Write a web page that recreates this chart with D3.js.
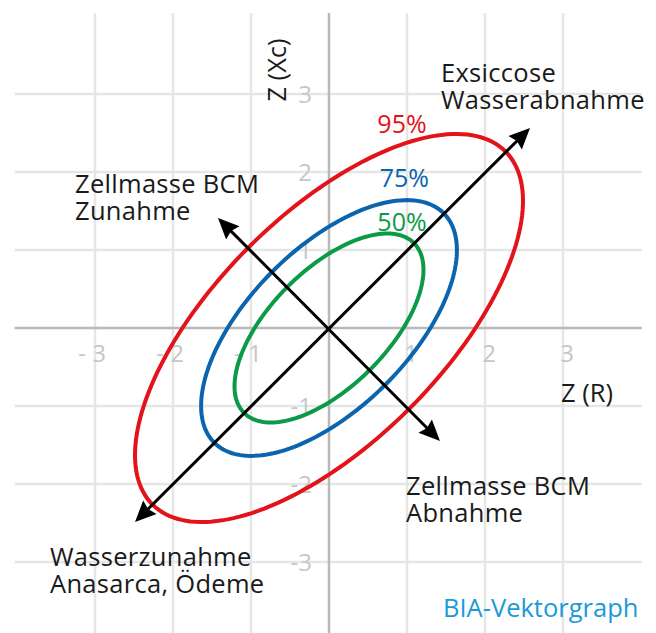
<!DOCTYPE html>
<html>
<head>
<meta charset="utf-8">
<script src="https://cdn.jsdelivr.net/npm/d3@7"></script>
<style>
  html, body { margin: 0; padding: 0; background: #fff; }
  svg { display: block; }
  text { font-family: "Open Sans", Lato, sans-serif; }
</style>
</head>
<body>
<svg id="chart" width="656" height="633"></svg>
<script>
// ---- data ----
const gridTicks = [-3, -2, -1, 1, 2, 3];
const xTickLabels = ["- 3", "- 2", "- 1", "1", "2", "3"];
const yTickLabels = ["-3", "-2", "-1", "1", "2", "3"];

const levelNames = ["50%", "75%", "95%"];
const levelColors = ["#0b9a47", "#0a64ae", "#e3131b"];
const semiMajor = [1.54, 2.08, 3.20];   // along the 45° direction
const semiMinor = [0.75, 1.025, 1.46];
const tiltDeg = 45;
const levelLabelPos = [[0.62, 1.25], [0.65, 1.81], [0.62, 2.5]]; // label anchor (data units)

const arrowNames = ["Hydratation", "Zellmasse"];
const arrowStart = [[-2.487, -2.487], [-1.423, 1.41]];
const arrowEnd = [[2.577, 2.564], [1.423, -1.449]];

const annotationLines = [
  ["Exsiccose", "Wasserabnahme"],
  ["Zellmasse BCM", "Zunahme"],
  ["Zellmasse BCM", "Abnahme"],
  ["Wasserzunahme", "Anasarca, Ödeme"]
];

// ---- layout ----
const svg = d3.select("#chart");
const x = d3.scaleLinear().domain([-3, 3]).range([95, 563]);
const y = d3.scaleLinear().domain([-3, 3]).range([562, 94]);
const xExt = [-4.03, 4.01];
const yExt = [-3.91, 4.04];

const gridColor = "#e6e6e6";
const axisColor = "#b9b9b9";
const tickColor = "#c6c6c6";
const textColor = "#1a1a1a";

// grid
const g = svg.append("g");
g.selectAll(".vg").data(gridTicks).join("line")
  .attr("x1", d => x(d)).attr("x2", d => x(d))
  .attr("y1", y(yExt[1])).attr("y2", y(yExt[0]))
  .attr("stroke", gridColor).attr("stroke-width", 2.5);
g.selectAll(".hg").data(gridTicks).join("line")
  .attr("y1", d => y(d)).attr("y2", d => y(d))
  .attr("x1", x(xExt[0])).attr("x2", x(xExt[1]))
  .attr("stroke", gridColor).attr("stroke-width", 2.5);

// axes
g.append("line").attr("x1", x(xExt[0])).attr("x2", x(xExt[1]))
  .attr("y1", y(0)).attr("y2", y(0)).attr("stroke", axisColor).attr("stroke-width", 2.5);
g.append("line").attr("x1", x(0)).attr("x2", x(0))
  .attr("y1", y(yExt[1])).attr("y2", y(yExt[0])).attr("stroke", axisColor).attr("stroke-width", 2.5);

// tick labels
svg.selectAll(".xt").data(gridTicks).join("text")
  .attr("x", d => x(d) + 11).attr("y", y(0) + 34)
  .attr("text-anchor", "end").attr("font-size", 24).attr("fill", tickColor)
  .text((d, i) => xTickLabels[i]);
svg.selectAll(".yt").data(gridTicks).join("text")
  .attr("x", x(0) - 17).attr("y", d => y(d) + 9)
  .attr("text-anchor", "end").attr("font-size", 24).attr("fill", tickColor)
  .text((d, i) => yTickLabels[i]);

// ellipses
const th = tiltDeg * Math.PI / 180;
const line = d3.line().x(p => x(p[0])).y(p => y(p[1])).curve(d3.curveLinearClosed);
const ell = levelNames.map((n, i) => {
  const pts = d3.range(0, 360, 2).map(a => {
    const t = a * Math.PI / 180;
    const u = semiMajor[i] * Math.cos(t), v = semiMinor[i] * Math.sin(t);
    return [u * Math.cos(th) - v * Math.sin(th), u * Math.sin(th) + v * Math.cos(th)];
  });
  return { name: n, color: levelColors[i], pts, lp: levelLabelPos[i] };
});
svg.selectAll(".ell").data(ell).join("path")
  .attr("d", d => line(d.pts)).attr("fill", "none")
  .attr("stroke", d => d.color).attr("stroke-width", 4);
svg.selectAll(".lvl").data(ell).join("text")
  .attr("x", d => x(d.lp[0])).attr("y", d => y(d.lp[1]))
  .attr("font-size", 25).attr("fill", d => d.color)
  .text(d => d.name);

// arrows (double-headed)
const headLen = 21, headHalf = 9.5;
const arrows = arrowNames.map((n, i) => ({ s: arrowStart[i], e: arrowEnd[i] }));
arrows.forEach(a => {
  const sx = x(a.s[0]), sy = y(a.s[1]), ex = x(a.e[0]), ey = y(a.e[1]);
  const L = Math.hypot(ex - sx, ey - sy), ux = (ex - sx) / L, uy = (ey - sy) / L;
  svg.append("line")
    .attr("x1", sx + ux * (headLen - 4)).attr("y1", sy + uy * (headLen - 4))
    .attr("x2", ex - ux * (headLen - 4)).attr("y2", ey - uy * (headLen - 4))
    .attr("stroke", "#000").attr("stroke-width", 3);
  [[ex, ey, ux, uy], [sx, sy, -ux, -uy]].forEach(([tx, ty, dx, dy]) => {
    const bx = tx - dx * headLen, by = ty - dy * headLen;
    const px = -dy, py = dx;
    svg.append("path")
      .attr("d", `M${tx},${ty}L${bx + px * headHalf},${by + py * headHalf}L${tx - dx * headLen * 0.88},${ty - dy * headLen * 0.88}L${bx - px * headHalf},${by - py * headHalf}Z`)
      .attr("fill", "#000");
  });
});

// two-line annotations
const annotationPos = [[441, 82], [75, 193], [406, 495], [50, 566]];
const lineGap = 26.5;
annotationLines.forEach((lines, i) => {
  const t = svg.append("text")
    .attr("x", annotationPos[i][0]).attr("y", annotationPos[i][1])
    .attr("font-size", 25.5).attr("fill", textColor)
    .attr("letter-spacing", 0.3);
  lines.forEach((s, j) => {
    t.append("tspan").attr("x", annotationPos[i][0])
      .attr("y", annotationPos[i][1] + j * lineGap).text(s);
  });
});

svg.append("text").attr("x", 561).attr("y", 402)
  .attr("font-size", 25.5).attr("fill", textColor).text("Z (R)");

svg.append("text")
  .attr("transform", "translate(286,70) rotate(-90)")
  .attr("text-anchor", "middle").attr("font-size", 25.5).attr("fill", textColor)
  .text("Z (Xc)");

svg.append("text").attr("x", 443).attr("y", 617)
  .attr("font-size", 25.5).attr("fill", "#1b9ad8").text("BIA-Vektorgraph");
</script>
</body>
</html>
